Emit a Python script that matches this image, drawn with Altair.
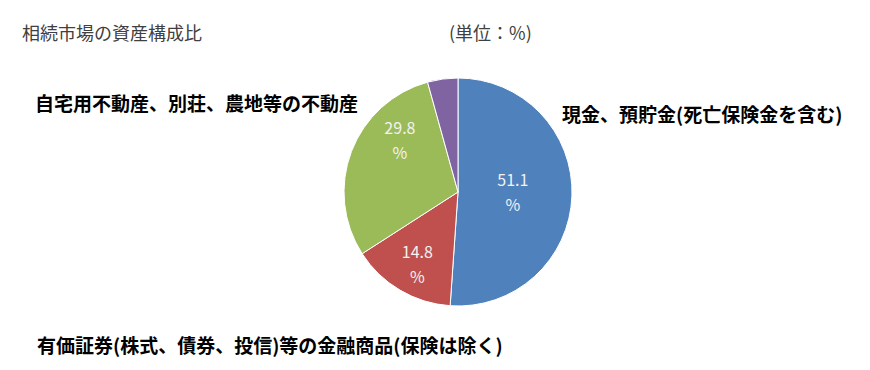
import altair as alt
import pandas as pd

categories = ["現金、預貯金(死亡保険金を含む)", "有価証券(株式、債券、投信)等の金融商品(保険は除く)",
              "自宅用不動産、別荘、農地等の不動産", "その他"]
values = [51.1, 14.8, 29.8, 4.3]
labels = ["51.1\n%", "14.8\n%", "29.8\n%", ""]
colors = ["#4F81BD", "#C0504D", "#9BBB59", "#8064A2"]
order = [0, 1, 2, 3]
# label placement (layout only): radius in px, angular shift in percent units
label_radius = [56, 73, 86, 0]
label_shift = [-3.7, 0.9, 7.4, 0]

df = pd.DataFrame({"category": categories, "value": values, "label": labels,
                   "order": order, "lr": label_radius, "ls": label_shift})

CX, CY, R = 450, 184, 114
FONT = "Noto Sans CJK JP"

theta_scale = alt.Scale(domain=[0, 100], range=[0, 6.283185307179586])

base = alt.Chart(df).transform_stack(
    stack="value", groupby=[], as_=["s0", "s1"], sort=[alt.SortField("order", order="ascending")]
).transform_calculate(mid="(datum.s0 + datum.s1) / 2 + datum.ls")

pie = base.mark_arc(outerRadius=R, stroke="white", strokeWidth=1).encode(
    theta=alt.Theta("s0:Q", scale=theta_scale),
    theta2="s1:Q",
    color=alt.Color("category:N", scale=alt.Scale(domain=categories, range=colors), legend=None),
    x=alt.value(CX), y=alt.value(CY),
)

pct = base.mark_text(font=FONT, fontSize=16, color="#F2F2F2", lineBreak="\n",
                     lineHeight=25, baseline="middle").encode(
    theta=alt.Theta("mid:Q", scale=theta_scale),
    radius=alt.Radius("lr:Q", scale=None),
    text="label:N",
    x=alt.value(CX), y=alt.value(CY),
)

ann_text = ["相続市場の資産構成比", "(単位：%)", categories[2], categories[0], categories[1]]
ann_x = [14, 441, 27, 554, 29]
ann_y = [27, 27, 97, 108, 339]
ann_size = [18, 18, 19, 19, 19]
ann_weight = ["normal", "normal", "bold", "bold", "bold"]
ann_color = ["#404040", "#404040", "#000000", "#000000", "#000000"]

layers = [pie, pct]
for t, x, y, s, w, c in zip(ann_text, ann_x, ann_y, ann_size, ann_weight, ann_color):
    layers.append(
        alt.Chart(pd.DataFrame({"t": [t]})).mark_text(
            font=FONT, fontSize=s, fontWeight=w, color=c, align="left", baseline="middle"
        ).encode(text="t:N", x=alt.value(x), y=alt.value(y))
    )

chart = alt.layer(*layers).properties(
    width=854, height=354, padding=0, background="white",
    autosize=alt.AutoSizeParams(type="none")
).configure_view(strokeWidth=0, stroke=None)

chart.save("out.html", embed_options={"renderer": "svg", "actions": False})
